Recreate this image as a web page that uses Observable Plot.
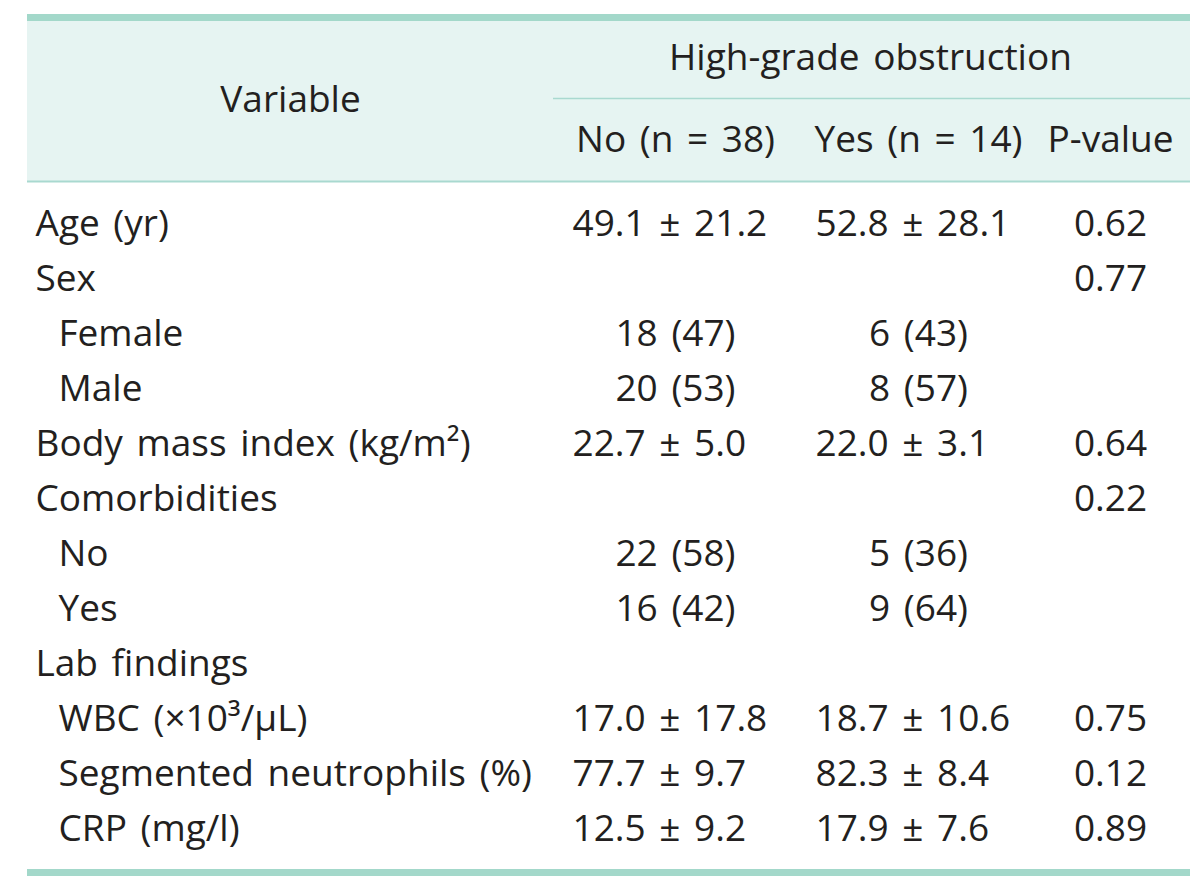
<!DOCTYPE html>
<html><head><meta charset="utf-8">
<script src="https://cdn.jsdelivr.net/npm/d3@7"></script>
<script src="https://cdn.jsdelivr.net/npm/@observablehq/plot@0.6"></script>
<style>html,body{margin:0;padding:0;background:#fff;} svg{display:block;}</style>
</head><body><div id="chart"></div>
<script>
// ---- data ----
const groupHeader = "High-grade obstruction";
const stubHeader = "Variable";
const columnHeaders = ["No (n = 38)", "Yes (n = 14)", "P-value"];
const variables = ["Age (yr)", "Sex", "Female", "Male", "Body mass index (kg/m²)", "Comorbidities", "No", "Yes", "Lab findings", "WBC (×10³/μL)", "Segmented neutrophils (%)", "CRP (mg/l)"];
const isSubItem = [false, false, true, true, false, false, true, true, false, true, true, true];
const noGroup = ["49.1 ± 21.2", "", "18 (47)", "20 (53)", "22.7 ± 5.0", "", "22 (58)", "16 (42)", "", "17.0 ± 17.8", "77.7 ± 9.7", "12.5 ± 9.2"];
const yesGroup = ["52.8 ± 28.1", "", "6 (43)", "8 (57)", "22.0 ± 3.1", "", "5 (36)", "9 (64)", "", "18.7 ± 10.6", "82.3 ± 8.4", "17.9 ± 7.6"];
const pValues = ["0.62", "0.77", "", "", "0.64", "0.22", "", "", "", "0.75", "0.12", "0.89"];

// ---- layout ----
const L = {
  left: 27, right: 1190,
  stubX: 35, indentX: 58,
  colX: [675, 918, 1110],
  colLeftX: [572, 815, 1068],
  stubCenter: 290, groupCenter: 870, groupLineX1: 553,
  topLine: 17, headerBottom: 181, groupLine: 98, bottomLine: 872,
  groupY: 58, colHeadY: 140, stubHeadY: 100,
  firstRowY: 224, rowPitch: 55,
  font: "'Open Sans', Lato, sans-serif", fontSize: 37, wordSpacing: "4px",
  ink: "#231f20", thick: "#a3d8ca", thin: "#a9d9d0", fill: "#e6f4f2"
};

const rows = variables.map((v, i) => ({
  label: v, sub: isSubItem[i], no: noGroup[i], yes: yesGroup[i], p: pValues[i],
  y: L.firstRowY + L.rowPitch * i
}));
// mean ± SD values are left aligned in their column; counts are centred
const cells = rows.flatMap(r => [
  {c: 0, y: r.y, t: r.no},
  {c: 1, y: r.y, t: r.yes},
  {c: 2, y: r.y, t: r.p}
]).filter(d => d.t !== "").map(d => {
  const left = d.t.includes("±");
  return {...d, x: left ? L.colLeftX[d.c] : L.colX[d.c], anchor: left ? "start" : "middle"};
});
const cellsLeft = cells.filter(d => d.anchor === "start");
const cellsMid = cells.filter(d => d.anchor === "middle");
const headCells = columnHeaders.map((t, i) => ({x: L.colX[i], y: L.colHeadY, t}));

const txt = {fontFamily: L.font, fontSize: L.fontSize, fill: L.ink};

const chart = Plot.plot({
  width: 1200, height: 885, margin: 0,
  style: {background: "#fff", wordSpacing: L.wordSpacing},
  x: {type: "linear", domain: [0, 1200], range: [0, 1200], axis: null},
  y: {type: "linear", domain: [0, 885], range: [0, 885], axis: null},
  marks: [
    Plot.rect([{}], {x1: L.left, x2: L.right, y1: L.topLine, y2: L.headerBottom, fill: L.fill}),
    Plot.ruleY([L.topLine], {x1: L.left, x2: L.right, stroke: L.thick, strokeWidth: 7}),
    Plot.ruleY([L.bottomLine], {x1: L.left, x2: L.right, stroke: L.thick, strokeWidth: 7}),
    Plot.ruleY([L.headerBottom], {x1: L.left, x2: L.right, stroke: L.thin, strokeWidth: 2}),
    Plot.ruleY([L.groupLine], {x1: L.groupLineX1, x2: L.right, stroke: L.thin, strokeWidth: 1.5}),
    Plot.text([stubHeader], {x: L.stubCenter, y: L.stubHeadY, text: d => d, ...txt}),
    Plot.text([groupHeader], {x: L.groupCenter, y: L.groupY, text: d => d, ...txt}),
    Plot.text(headCells, {x: "x", y: "y", text: "t", ...txt}),
    Plot.text(rows, {x: d => d.sub ? L.indentX : L.stubX, y: "y", text: "label", textAnchor: "start", ...txt}),
    Plot.text(cellsLeft, {x: "x", y: "y", text: "t", textAnchor: "start", ...txt}),
    Plot.text(cellsMid, {x: "x", y: "y", text: "t", ...txt})
  ]
});
document.getElementById("chart").appendChild(chart);
</script>
</body></html>
